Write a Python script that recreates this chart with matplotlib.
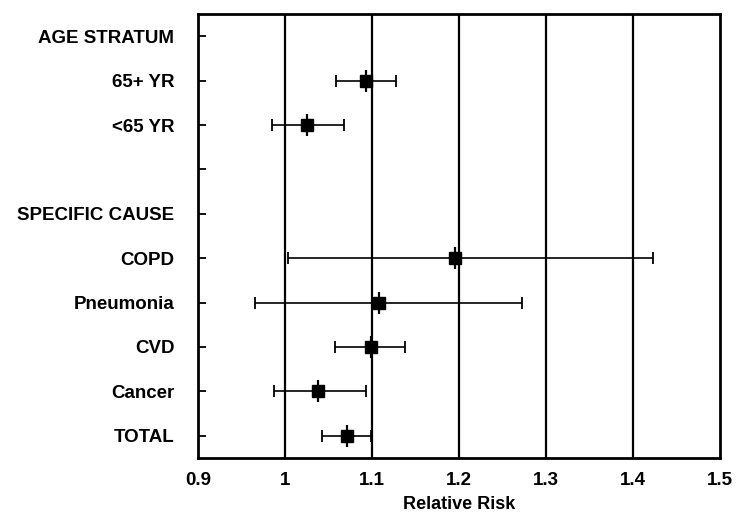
import numpy as np
import matplotlib
matplotlib.use('Agg')
import matplotlib.pyplot as plt

plt.rcParams['font.family'] = ['Liberation Sans', 'DejaVu Sans']
plt.rcParams['font.weight'] = 'bold'

# rows from top to bottom
labels = ['AGE STRATUM', '65+ YR', '<65 YR', '', 'SPECIFIC CAUSE',
          'COPD', 'Pneumonia', 'CVD', 'Cancer', 'TOTAL']
# estimates (None = header / blank row)
rr = [None, 1.093, 1.025, None, None, 1.195, 1.108, 1.099, 1.038, 1.071]
lo = [None, 1.059, 0.985, None, None, 1.003, 0.966, 1.057, 0.987, 1.043]
hi = [None, 1.127, 1.068, None, None, 1.423, 1.272, 1.138, 1.093, 1.099]

xticks = [0.9, 1.0, 1.1, 1.2, 1.3, 1.4, 1.5]
xticklabels = ['0.9', '1', '1.1', '1.2', '1.3', '1.4', '1.5']

fig = plt.figure(figsize=(7.37, 5.15), dpi=100)
ax = fig.add_axes([0.2687, 0.1107, 0.977 - 0.2687, 0.9728 - 0.1107])

ypos = np.arange(len(labels))[::-1]

# vertical reference lines
for xv in xticks[1:-1]:
    ax.axvline(xv, color='black', lw=1.6, zorder=1)

for y, r, l, h in zip(ypos, rr, lo, hi):
    if r is None:
        continue
    ax.errorbar(r, y, xerr=[[r - l], [h - r]], fmt='none', ecolor='black',
                elinewidth=1.2, capsize=4.5, capthick=1.3, zorder=3)
    ax.plot(r, y, marker='s', color='black', markersize=9, zorder=4)
    ax.plot(r, y, marker='|', color='black', markersize=16, mew=1.6, zorder=4)

ax.set_xlim(0.9, 1.5)
ax.set_ylim(-0.5, 9.5)
ax.set_xticks(xticks)
ax.set_xticklabels(xticklabels)
ax.set_yticks(ypos)
ax.set_yticklabels(labels)
ax.tick_params(axis='y', direction='in', length=6, width=1.3, pad=17, labelsize=13.5)
ax.tick_params(axis='x', length=0, pad=10, labelsize=13.5)
for t in ax.get_xticklabels() + ax.get_yticklabels():
    t.set_fontweight('bold')
for s in ax.spines.values():
    s.set_linewidth(2)

ax.set_xlabel('Relative Risk', fontsize=13, fontweight='bold', labelpad=5)

fig.savefig('out.png', dpi=100)
